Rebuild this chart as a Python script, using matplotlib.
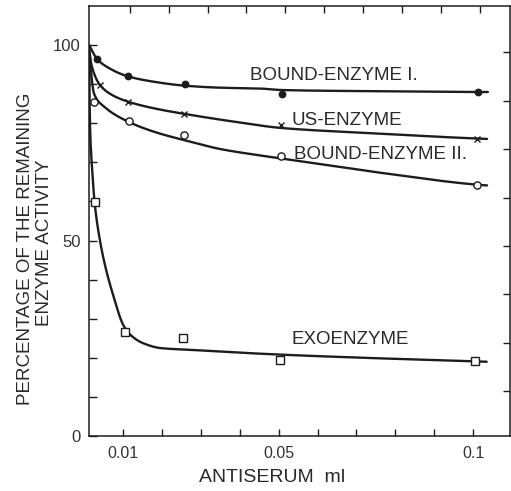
import numpy as np
import matplotlib
matplotlib.use("Agg")
import matplotlib.pyplot as plt

plt.rcParams['font.family'] = ['Liberation Sans', 'DejaVu Sans']

# ---- measured points (antiserum ml, % remaining activity) ----
bound1_x = [0.0032, 0.0112, 0.0259, 0.0508, 0.1012]
bound1_y = [96.4, 92.1, 90.0, 87.4, 87.9]

us_x = [0.0040, 0.0113, 0.0257, 0.0506, 0.1009]
us_y = [89.8, 85.5, 82.4, 79.5, 76.0]

bound2_x = [0.0025, 0.0115, 0.0256, 0.0506, 0.1009]
bound2_y = [85.5, 80.6, 77.0, 71.6, 64.2]

exo_x = [0.0027, 0.0104, 0.0253, 0.0502, 0.1005]
exo_y = [59.8, 26.7, 25.0, 19.4, 19.2]

# ---- hand-fitted curves (knots) ----
bound1_cx = [0.00122, 0.0032, 0.0055, 0.0112, 0.018, 0.026, 0.035, 0.045, 0.0508, 0.075, 0.1012, 0.1038]
bound1_cy = [100.0, 96.5, 94.6, 92.0, 90.6, 89.6, 89.1, 88.9, 88.5, 88.2, 88.0, 88.0]

us_cx = [0.00122, 0.0018, 0.0040, 0.0070, 0.0113, 0.018, 0.0257, 0.040, 0.0506, 0.075, 0.1009, 0.1036]
us_cy = [99.0, 95.0, 89.8, 87.3, 85.5, 83.8, 82.4, 80.2, 78.8, 77.4, 76.1, 76.0]

bound2_cx = [0.00122, 0.0017, 0.0025, 0.0050, 0.0115, 0.018, 0.0256, 0.035, 0.045, 0.0506, 0.075, 0.1009, 0.1036]
bound2_cy = [98.5, 93.0, 87.5, 84.3, 80.3, 77.8, 75.7, 73.4, 71.8, 71.0, 67.5, 64.3, 64.1]

exo_cx = [0.00122, 0.0014, 0.0020, 0.0027, 0.0040, 0.0053, 0.0074, 0.0101, 0.0125, 0.0152,
          0.0195, 0.028, 0.0485, 0.075, 0.1005, 0.1035]
exo_cy = [100.0, 81.0, 68.0, 59.0, 50.0, 43.7, 36.0, 28.2, 25.3, 23.7,
          22.5, 22.0, 20.9, 19.9, 19.1, 19.0]

curve_labels = ["BOUND-ENZYME I.", "US-ENZYME", "BOUND-ENZYME II.", "EXOENZYME"]
label_x = [0.0426, 0.0534, 0.0540, 0.0534]
label_y = [92.1, 80.8, 72.1, 24.6]

x_ticks = [0.01, 0.02, 0.03, 0.04, 0.05, 0.06, 0.07, 0.08, 0.09, 0.10]
x_ticklabels = ["0.01", "", "", "", "0.05", "", "", "", "", "0.1"]
y_ticks = [0, 10, 20, 30, 40, 50, 60, 70, 80, 90, 100]
y_ticklabels = ["0", "", "", "", "", "50", "", "", "", "", "100"]
top_ticks = [0.0117, 0.0217, 0.0317, 0.0417, 0.0517, 0.0617, 0.0717, 0.0817, 0.0917, 0.1017]
right_ticks = [11.5, 23.8, 36.3, 48.6, 61.0, 73.4, 85.7, 98.2]


def pchip(xk, yk, xs):
    """Monotone piecewise cubic Hermite interpolation."""
    xk = np.asarray(xk, float)
    yk = np.asarray(yk, float)
    h = np.diff(xk)
    d = np.diff(yk) / h
    m = np.zeros_like(yk)
    m[0], m[-1] = d[0], d[-1]
    for i in range(1, len(xk) - 1):
        if d[i - 1] * d[i] <= 0:
            m[i] = 0.0
        else:
            w1 = 2 * h[i] + h[i - 1]
            w2 = h[i] + 2 * h[i - 1]
            m[i] = (w1 + w2) / (w1 / d[i - 1] + w2 / d[i])
    idx = np.clip(np.searchsorted(xk, xs) - 1, 0, len(xk) - 2)
    t = (xs - xk[idx]) / h[idx]
    h00 = 2 * t**3 - 3 * t**2 + 1
    h10 = t**3 - 2 * t**2 + t
    h01 = -2 * t**3 + 3 * t**2
    h11 = t**3 - t**2
    return (h00 * yk[idx] + h10 * h[idx] * m[idx]
            + h01 * yk[idx + 1] + h11 * h[idx] * m[idx + 1])


ink = "#1c1c1c"
fig = plt.figure(figsize=(5.11, 4.91), dpi=100)
ax = fig.add_axes([89 / 511, 55 / 491, 421 / 511, 430 / 491])

xlim = (0.00118, 0.1095)
ylim = (0, 110)

for cx, cy in [(bound1_cx, bound1_cy), (us_cx, us_cy), (bound2_cx, bound2_cy), (exo_cx, exo_cy)]:
    xs = np.linspace(cx[0], cx[-1], 800)
    ax.plot(xs, pchip(cx, cy, xs), color=ink, lw=1.7, zorder=2, solid_capstyle='round')

ax.plot(bound1_x, bound1_y, 'o', ms=4.6, color=ink, zorder=3)
ax.plot(us_x, us_y, 'x', ms=4.5, mew=1.0, color=ink, zorder=3)
ax.plot(bound2_x, bound2_y, 'o', ms=5.2, mew=1.0, mfc='white', mec=ink, zorder=3)
ax.plot(exo_x, exo_y, 's', ms=5.8, mew=1.0, mfc='white', mec=ink, zorder=3)

for txt, lx, ly in zip(curve_labels, label_x, label_y):
    ax.text(lx, ly, txt, fontsize=13.5, color="#2a2a2a", ha='left', va='center')

ax.set_xlim(*xlim)
ax.set_ylim(*ylim)
ax.set_xticks(x_ticks)
ax.set_xticklabels(x_ticklabels)
ax.set_yticks(y_ticks)
ax.set_yticklabels(y_ticklabels)
ax.tick_params(axis='x', direction='in', length=5, width=1.0, colors=ink,
               labelsize=11.5, pad=7, labelcolor="#333333")
ax.tick_params(axis='y', direction='in', length=6, width=1.0, colors=ink,
               labelsize=12, pad=6, labelcolor="#333333")
for sp in ax.spines.values():
    sp.set_linewidth(1.1)
    sp.set_color(ink)

# ticks on the top and right edges of the frame
axt = ax.twiny()
axt.set_xlim(*xlim)
axt.set_xticks(top_ticks)
axt.set_xticklabels([])
axt.tick_params(axis='x', direction='in', length=5, width=1.0, colors=ink)
axr = ax.twinx()
axr.set_ylim(*ylim)
axr.set_yticks(right_ticks)
axr.set_yticklabels([])
axr.tick_params(axis='y', direction='in', length=5, width=1.0, colors=ink)
for a in (axt, axr):
    for sp in a.spines.values():
        sp.set_visible(False)

fig.text(272 / 511, 1 - 477 / 491, "ANTISERUM  ml", fontsize=14, color="#2a2a2a",
         ha='center', va='center')
fig.text(25.5 / 511, 1 - 249 / 491, "PERCENTAGE OF THE REMAINING", fontsize=13.5,
         color="#2a2a2a", rotation=90, ha='center', va='center')
fig.text(44.5 / 511, 1 - 243 / 491, "ENZYME ACTIVITY", fontsize=13.5,
         color="#2a2a2a", rotation=90, ha='center', va='center')

fig.savefig("out.png", dpi=100, facecolor='white')
